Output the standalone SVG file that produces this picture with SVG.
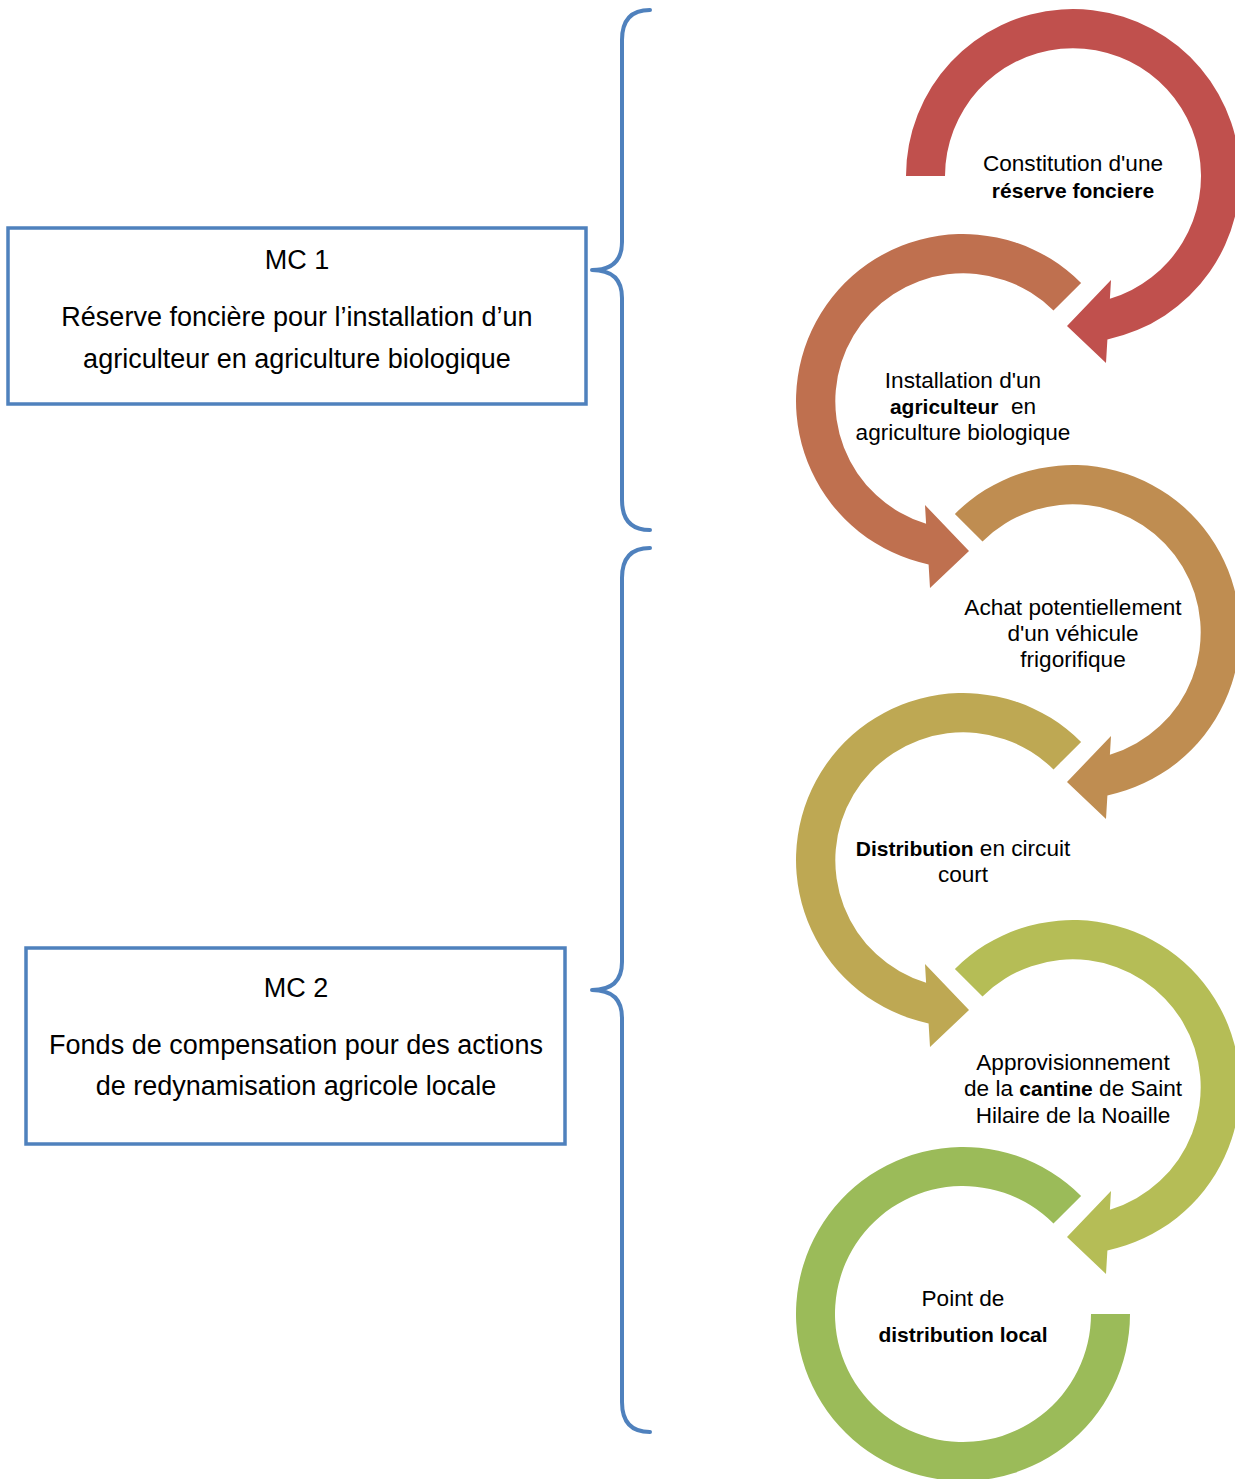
<svg xmlns="http://www.w3.org/2000/svg" width="1235" height="1479" viewBox="0 0 1235 1479">
<style>
.box{fill:#fff;stroke:#4F81BD;stroke-width:3.5}
.brace{fill:none;stroke:#4F81BD;stroke-width:4;stroke-linecap:round;stroke-linejoin:round}
.bt{font-family:"Liberation Sans",Arial,sans-serif;font-size:27px;fill:#000;text-anchor:middle}
.ct{font-family:"Liberation Sans",Arial,sans-serif;font-size:22.6px;fill:#000;text-anchor:middle}
.b{font-weight:bold;font-size:21px}
</style>
<rect width="1235" height="1479" fill="#fff"/>
<g id="connectors">
<path class="brace" d="M650,10 Q622,10 622,40 L622,242 Q622,270 592,270 Q622,270 622,298 L622,500 Q622,530 650,530"/>
<path class="brace" d="M650,548 Q622,548 622,578 L622,962 Q622,990 592,990 Q622,990 622,1018 L622,1402 Q622,1432 650,1432"/>
</g>
<g id="mc1">
<rect class="box" x="8" y="228" width="578" height="176"/>
<text class="bt" x="297" y="269">MC 1</text>
<text class="bt" x="297" y="326">Réserve foncière pour l’installation d’un</text>
<text class="bt" x="297" y="368">agriculteur en agriculture biologique</text>
</g>
<g id="mc2">
<rect class="box" x="26" y="948" width="539" height="196"/>
<text class="bt" x="296" y="997">MC 2</text>
<text class="bt" x="296" y="1054">Fonds de compensation pour des actions</text>
<text class="bt" x="296" y="1095">de redynamisation agricole locale</text>
</g>
<g id="step1">
<path fill="#C0504D" transform="translate(1073,176)" d="M-167,0 A167,167 0 1 1 34.4,163.4 L33,187 L-6,150 L38,104 L36.9,122.8 A128,128 0 1 0 -128,0 Z"/>
<text class="ct" x="1073" y="171">Constitution d'une</text>
<text class="ct b" x="1073" y="198">réserve fonciere</text>
</g>
<g id="step2">
<path fill="#BF704F" transform="translate(963,401)" d="M118.1,-118.1 A167,167 0 1 0 -34.4,163.4 L-33,187 L6,150 L-38,104 L-36.9,122.8 A128,128 0 1 1 90.5,-90.5 Z"/>
<text class="ct" x="963" y="388">Installation d'un</text>
<text class="ct" x="963" y="414"><tspan class="b">agriculteur</tspan>&#160; en</text>
<text class="ct" x="963" y="440">agriculture biologique</text>
</g>
<g id="step3">
<path fill="#BF8D51" transform="translate(1073,632)" d="M-118.1,-118.1 A167,167 0 1 1 34.4,163.4 L33,187 L-6,150 L38,104 L36.9,122.8 A128,128 0 1 0 -90.5,-90.5 Z"/>
<text class="ct" x="1073" y="615">Achat potentiellement</text>
<text class="ct" x="1073" y="641">d'un véhicule</text>
<text class="ct" x="1073" y="667">frigorifique</text>
</g>
<g id="step4">
<path fill="#BEA853" transform="translate(963,860)" d="M118.1,-118.1 A167,167 0 1 0 -34.4,163.4 L-33,187 L6,150 L-38,104 L-36.9,122.8 A128,128 0 1 1 90.5,-90.5 Z"/>
<text class="ct" x="963" y="856"><tspan class="b">Distribution</tspan> en circuit</text>
<text class="ct" x="963" y="882">court</text>
</g>
<g id="step5">
<path fill="#B5BD56" transform="translate(1073,1087)" d="M-118.1,-118.1 A167,167 0 1 1 34.4,163.4 L33,187 L-6,150 L38,104 L36.9,122.8 A128,128 0 1 0 -90.5,-90.5 Z"/>
<text class="ct" x="1073" y="1070">Approvisionnement</text>
<text class="ct" x="1073" y="1096">de la <tspan class="b">cantine</tspan> de Saint</text>
<text class="ct" x="1073" y="1123">Hilaire de la Noaille</text>
</g>
<g id="step6">
<path fill="#9BBB59" transform="translate(963,1314)" d="M118.1,-118.1 A167,167 0 1 0 167,0 L128,0 A128,128 0 1 1 90.5,-90.5 Z"/>
<text class="ct" x="963" y="1306">Point de</text>
<text class="ct b" x="963" y="1342">distribution local</text>
</g>
</svg>
